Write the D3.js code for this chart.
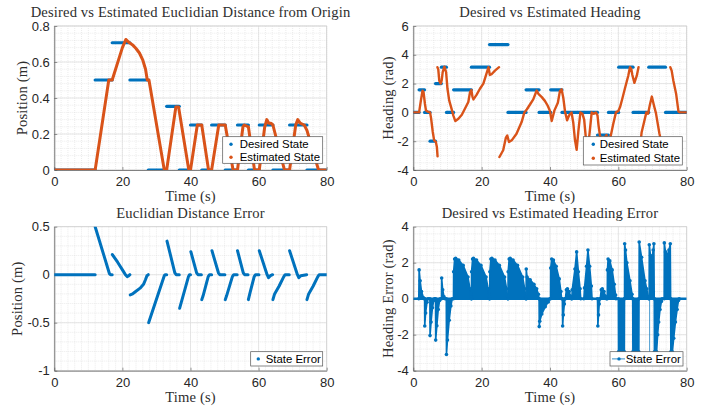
<!DOCTYPE html>
<html>
<head>
<meta charset="utf-8">
<title>Desired vs Estimated State</title>
<script src="https://d3js.org/d3.v7.min.js"></script>
<style>
  body { margin: 0; background: #fff; }
  svg { display: block; }
  .title, .alabel { font-family: "Liberation Serif", "Times New Roman", serif; font-size: 14.6px; letter-spacing: 0.15px; fill: #2e2e2e; }
  .tick text { font-family: "Liberation Sans", Arial, sans-serif; font-size: 13px; fill: #262626; }
  .legend text { font-family: "Liberation Sans", Arial, sans-serif; font-size: 11.4px; fill: #000; }
</style>
</head>
<body>
<svg id="fig" width="709" height="408"></svg>
<script>
// ---- data ----
const timeTicks = [0, 20, 40, 60, 80];
const distTicks = [0, 0.2, 0.4, 0.6, 0.8];
const headingTicks = [-4, -2, 0, 2, 4, 6];
const distErrTicks = [-1, -0.5, 0, 0.5];
const headErrTicks = [-4, -2, 0, 2, 4];

// desired euclidian distance: [start time, end time, value]
const distDesired = [
  [0, 12, 0], [12, 17, 0.5], [17, 22.2, 0.707], [22.2, 27.6, 0.5], [27.6, 33, 0],
  [33, 36.7, 0.354], [36.7, 40, 0], [40, 43.3, 0.25], [43.3, 46.2, 0], [46.2, 50.2, 0.25],
  [50.2, 53.8, 0], [53.8, 57, 0.25], [57, 60.2, 0], [60.2, 64.2, 0.25], [64.2, 69.1, 0],
  [69.1, 74.2, 0.25], [74.2, 80, 0]
];
// estimated euclidian distance: [time, value]
const distEstimated = [
  [0, 0], [12, 0], [16.0, 0.5], [17.0, 0.5], [18, 0.56], [19, 0.62], [20, 0.68], [21, 0.725],
  [21.6, 0.715], [22.2, 0.705], [23, 0.695], [24, 0.675], [25, 0.65], [26, 0.61], [26.8, 0.56],
  [27.3, 0.5], [27.8, 0.5], [32.3, 0], [33.0, 0], [35.7, 0.35], [36.5, 0.35], [39.5, 0], [40, 0],
  [42, 0.25], [43.3, 0.25], [45.3, 0], [46.2, 0], [48.3, 0.25], [50.2, 0.25], [52.5, 0], [53.8, 0],
  [55.4, 0.24], [55.8, 0.25], [57, 0.24], [58.8, 0], [60.2, 0], [61.8, 0.24], [62.4, 0.28],
  [63.0, 0.26], [63.6, 0.26], [64.2, 0.25], [67.6, 0], [69.1, 0], [70.9, 0.25], [71.5, 0.28],
  [72.2, 0.26], [73.4, 0.25], [74.2, 0.22], [77.6, 0], [80, 0]
];
// euclidian distance error, one list per continuous piece
const distErrorPieces = [
  [[0, 0], [12, 0]],
  [[12, 0.5], [16.2, 0.01], [16.5, 0], [17, 0]],
  [[17.05, 0.21], [18.6, 0.13], [20.2, 0.04], [20.9, 0], [21.4, -0.02], [21.9, -0.01], [22.2, 0]],
  [[22.3, -0.21], [23.0, -0.2], [23.7, -0.18], [25.2, -0.14], [26.2, -0.1], [26.8, -0.05], [27.2, -0.01], [27.6, 0]],
  [[27.7, -0.5], [32.3, -0.01], [32.6, 0], [33.0, 0]],
  [[33.1, 0.35], [35.4, 0.02], [35.8, 0], [36.7, 0]],
  [[36.8, -0.35], [39.4, -0.02], [39.7, 0], [40.0, 0]],
  [[40.1, 0.24], [41.8, 0.02], [42.2, 0], [43.2, 0]],
  [[43.3, -0.26], [43.7, -0.22], [45.2, -0.02], [45.6, 0], [46.2, 0]],
  [[46.3, 0.25], [48.2, 0.02], [48.6, 0], [50.1, 0]],
  [[50.2, -0.26], [50.6, -0.22], [52.3, -0.02], [52.7, 0], [53.7, 0]],
  [[53.8, 0.25], [55.5, 0.02], [55.9, 0], [56.9, 0]],
  [[57.0, -0.26], [57.4, -0.2], [58.7, -0.02], [59.1, 0], [60.1, 0]],
  [[60.2, 0.25], [62.5, 0], [62.9, -0.03], [63.5, -0.01], [64.1, 0]],
  [[64.2, -0.26], [64.7, -0.2], [66.0, -0.12], [67.4, -0.02], [67.8, 0], [69.0, 0]],
  [[69.1, 0.25], [71.4, 0], [71.8, -0.03], [72.4, -0.01], [74.1, 0]],
  [[74.2, -0.26], [74.7, -0.2], [76.0, -0.12], [77.4, -0.02], [77.8, 0], [80, 0]]
];

// desired heading: [start time, end time, value]
const headDesired = [
  [0, 1.7, 0], [1.7, 3.3, 1.571], [3.3, 4.9, 0], [4.9, 6.5, -2.0], [6.5, 8.2, 2.0],
  [8.2, 9.7, 3.142], [9.7, 11.8, 0], [11.8, 17.0, 1.571], [17.0, 22.3, 3.142], [22.3, 27.7, 4.712],
  [27.7, 33.0, 0], [33.0, 36.8, 1.571], [36.8, 40.2, 0], [40.2, 43.5, 1.571], [43.5, 53.9, 0],
  [53.9, 57.1, -1.571], [57.1, 60.1, 0], [60.1, 64.3, 3.142], [64.3, 68.9, 0], [68.9, 73.8, 3.142],
  [73.8, 80, 0]
];
// estimated heading, one list per branch between angle wraps
const headEstimated = [
  [[0, 0], [1.7, 0], [2.2, 0.8], [2.7, 1.5], [3.0, 1.4], [3.4, 0.6], [3.7, 0.15], [4.2, 0.05], [4.9, 0],
   [5.2, -0.4], [5.7, -1.36], [6.1, -1.94], [6.6, -2.05], [6.9, -2.4], [7.1, -3.05]],
  [[7.05, 3.14], [7.3, 3.0], [7.6, 2.2], [8.0, 2.0], [8.3, 2.2], [8.6, 2.8], [9.1, 3.18], [9.6, 2.8],
   [10.0, 1.64], [10.5, 0.83], [11.2, 0.25], [11.7, -0.21], [12.3, -0.6], [13.2, -0.44], [14.2, -0.16],
   [15.1, 0.25], [16.1, 0.72], [16.6, 1.41], [17.0, 1.55], [17.3, 1.1], [17.6, 0.9], [18.5, 1.22],
   [19.5, 1.64], [20.5, 2.0], [21.3, 2.6], [22.0, 3.14], [22.4, 2.6], [22.9, 2.65], [23.9, 2.9], [25.1, 3.14]],
  [[25.2, -3.1], [26.3, -2.63], [27.1, -1.75], [27.5, -1.6], [28.0, -2.06], [28.8, -1.94], [30.2, -1.48],
   [31.7, -0.67], [32.5, 0], [33.2, 0.2], [34.1, 0.53], [35.1, 0.9], [36.1, 1.52], [36.6, 1.29],
   [37.6, 1.06], [38.5, 0.8], [39.3, 0.48], [40.0, 0.1], [40.5, -0.6], [41.3, 0.14], [42.3, 0.67],
   [42.9, 1.48], [43.4, 1.6], [43.9, 1.0], [44.4, 0.05], [45.0, -0.55], [45.6, -0.2], [46.3, 0],
   [46.8, -0.7], [47.3, -1.9], [47.8, -2.6], [48.3, -1.3], [48.9, 0], [49.5, -0.1], [50.0, -0.5],
   [50.5, -1.8], [51.0, -2.65], [51.6, -1.4], [52.2, 0], [52.8, -0.1], [53.4, 0], [53.9, -0.2],
   [54.2, -0.9], [54.6, -1.57], [55.2, -2.1], [55.9, -1.8], [56.5, -1.57], [57.1, -2.2], [57.8, -1.6],
   [58.5, -0.8], [59.3, 0], [60.0, 0.1], [60.5, 0.37], [61.1, 0.9], [61.9, 1.64], [62.9, 2.55],
   [63.4, 3.14], [63.8, 3.0], [64.1, 2.6], [64.7, 2.05], [65.4, 2.55], [65.9, 3.14]],
  [[66.0, -3.1], [66.4, -2.3], [66.8, -1.4], [67.6, -0.6], [68.2, 0], [68.7, -0.1], [69.2, 0.5],
   [69.8, 1.1], [70.4, 0.5], [71.0, -0.05], [72.0, -1.45], [72.6, -2.1], [73.3, -2.7], [73.8, -3.0], [75.0, -3.1]],
  [[75.2, 3.14], [75.6, 2.9], [76.1, 2.2], [76.9, 1.3], [77.4, 0.4], [77.6, 0.05], [78.0, 0], [80, 0]]
];

// heading error: zero line, filled lobes (outer envelope) and one thin jump
const headErrorZero = [[0, 0], [80, 0]];
const headErrorLobes = [
  [[1.6, 0], [1.7, 1.6], [2.0, 1.0], [2.4, 0.4], [3.0, 0.05], [3.2, 0]],
  [[3.3, 0], [3.35, -1.52], [3.6, -0.8], [4.0, -0.2], [4.3, 0]],
  [[4.85, 0], [4.9, -2.05], [5.2, -1.3], [5.6, -0.5], [6.0, -0.1], [6.2, 0]],
  [[6.5, 0], [6.55, -2.3], [6.9, -1.5], [7.3, -0.6], [7.7, -0.1], [7.9, 0]],
  [[8.25, 0], [8.3, 1.15], [8.6, 0.5], [9.0, 0.1], [9.3, 0]],
  [[9.65, 0], [9.7, -3.1], [10.0, -2.3], [10.5, -1.2], [11.0, -0.4], [11.4, 0]],
  [[11.75, 0], [11.8, 1.5], [12.1, 2.2], [12.4, 2.25], [13.3, 2.15], [14.6, 1.85], [16.0, 1.2], [16.6, 0.55], [16.9, 0.1], [17.0, 0]],
  [[17.0, 0], [17.05, 1.5], [17.35, 2.2], [17.6, 2.25], [18.5, 2.15], [19.8, 1.85], [21.3, 1.2], [21.9, 0.55], [22.2, 0.1], [22.3, 0]],
  [[22.35, 0], [22.4, 1.5], [22.7, 2.2], [23.0, 2.25], [23.9, 2.15], [25.2, 1.85], [26.7, 1.2], [27.3, 0.55], [27.6, 0.1], [27.7, 0]],
  [[27.7, 0], [27.75, 1.5], [28.05, 2.2], [28.35, 2.25], [29.2, 2.15], [30.5, 1.85], [32.0, 1.2], [32.6, 0.55], [32.9, 0.1], [33.0, 0]],
  [[33.0, 0], [33.05, 1.65], [33.3, 1.2], [34.2, 1.05], [35.3, 0.8], [36.1, 0.55], [36.6, 0.25], [36.8, 0]],
  [[36.8, 0], [36.85, -1.55], [37.0, -1.25], [37.6, -0.85], [38.6, -0.45], [39.5, -0.18], [40.0, 0]],
  [[40.15, 0], [40.2, 1.7], [40.5, 2.2], [41.0, 2.15], [41.8, 1.8], [42.7, 1.1], [43.2, 0.4], [43.4, 0]],
  [[43.6, 0], [43.7, -1.52], [43.9, -0.9], [44.2, -0.3], [44.4, 0]],
  [[44.5, 0], [44.8, 0.5], [45.1, 0.55], [45.6, 0.4], [46.0, 0.15], [46.3, 0]],
  [[46.4, 0], [46.5, 0.5], [47.3, 1.65], [47.8, 2.6], [48.3, 1.5], [48.8, 0.55], [49.0, 0]],
  [[49.9, 0], [50.1, 0.6], [50.7, 1.8], [51.1, 2.7], [51.6, 1.8], [52.1, 0.7], [52.3, 0]],
  [[53.9, 0], [54.0, -1.52], [54.2, -0.9], [54.4, -0.3], [54.6, 0]],
  [[54.7, 0], [55.0, 0.5], [55.3, 0.55], [55.8, 0.4], [56.2, 0.15], [56.5, 0]],
  [[56.75, 0], [56.8, 1.6], [57.0, 2.2], [57.5, 2.1], [58.2, 1.6], [58.8, 0.8], [59.2, 0.2], [59.3, 0]],
  [[60.0, 0], [60.05, -2.95], [61.75, -2.95], [61.8, 0]],
  [[61.8, 0], [61.85, 3.05], [62.1, 2.7], [62.5, 2.0], [63.4, 1.0], [64.0, 0.25], [64.2, 0]],
  [[64.2, 0], [64.25, -2.95], [66.0, -2.95], [66.05, 0]],
  [[66.05, 0], [66.1, 3.15], [66.8, 2.3], [67.8, 1.0], [68.3, 0.55], [68.8, 0.1], [68.9, 0]],
  [[69.0, 0], [69.05, 3.0], [69.4, 2.4], [69.8, 2.2], [70.2, 2.7], [70.4, 3.05], [70.5, 0]],
  [[70.5, 0], [70.55, -2.95], [71.2, -2.95], [71.5, -2.0], [71.8, -1.3], [72.2, -0.6], [72.6, -0.15], [72.8, 0]],
  [[73.4, 0], [73.45, 3.1], [73.8, 2.6], [74.3, 2.4], [74.8, 2.7], [75.2, 3.05], [75.3, 0]],
  [[75.3, 0], [75.35, -2.95], [75.8, -2.95], [76.2, -2.2], [76.7, -1.3], [77.2, -0.6], [77.6, -0.1], [77.8, 0]]
];
const headErrorJumps = [[69.15, 2.9, -2.95]];

// ---- drawing ----
const blue = "#0072BD", orange = "#D95319";
const svg = d3.select("#fig");
svg.append("rect").attr("width", 709).attr("height", 408).attr("fill", "#fff");

function makePanel(box, yDomain, yTicks, yMinor, title, ylabel, id) {
  const x = d3.scaleLinear().domain([0, 80]).range([box.left, box.right]);
  const y = d3.scaleLinear().domain(yDomain).range([box.bottom, box.top]);
  const g = svg.append("g");

  // minor grid (dotted)
  g.append("g").selectAll("line").data(d3.range(0, 80.001, 2)).join("line")
    .attr("x1", d => x(d)).attr("x2", d => x(d)).attr("y1", box.top).attr("y2", box.bottom)
    .attr("stroke", "#d9d9d9").attr("stroke-width", 0.5).attr("stroke-dasharray", "1,1");
  g.append("g").selectAll("line").data(d3.range(yDomain[0], yDomain[1] + 1e-9, yMinor)).join("line")
    .attr("y1", d => y(d)).attr("y2", d => y(d)).attr("x1", box.left).attr("x2", box.right)
    .attr("stroke", "#d9d9d9").attr("stroke-width", 0.5).attr("stroke-dasharray", "1,1");
  // major grid
  g.append("g").selectAll("line").data(timeTicks).join("line")
    .attr("x1", d => x(d)).attr("x2", d => x(d)).attr("y1", box.top).attr("y2", box.bottom)
    .attr("stroke", "#dedede").attr("stroke-width", 0.7);
  g.append("g").selectAll("line").data(yTicks).join("line")
    .attr("y1", d => y(d)).attr("y2", d => y(d)).attr("x1", box.left).attr("x2", box.right)
    .attr("stroke", "#dedede").attr("stroke-width", 0.7);

  // box: light top/right, darker left/bottom
  g.append("rect").attr("x", box.left).attr("y", box.top)
    .attr("width", box.right - box.left).attr("height", box.bottom - box.top)
    .attr("fill", "none").attr("stroke", "#d0d0d0").attr("stroke-width", 0.7);

  const xAxis = g.append("g").attr("transform", "translate(0," + box.bottom + ")")
    .call(d3.axisBottom(x).tickValues(timeTicks).tickSize(-3).tickSizeOuter(0).tickPadding(7).tickFormat(d => d));
  const yAxis = g.append("g").attr("transform", "translate(" + box.left + ",0)")
    .call(d3.axisLeft(y).tickValues(yTicks).tickSize(-3).tickSizeOuter(0).tickPadding(4.5).tickFormat(d => String(d)));
  [xAxis, yAxis].forEach(a => {
    a.select(".domain").attr("stroke", "#555").attr("stroke-width", 0.7);
    a.selectAll(".tick line").attr("stroke", "#555").attr("stroke-width", 0.6);
  });

  svg.append("text").attr("class", "title").attr("text-anchor", "middle")
    .attr("x", (box.left + box.right) / 2).attr("y", box.top - 8.8).text(title);
  svg.append("text").attr("class", "alabel").attr("text-anchor", "middle")
    .attr("x", (box.left + box.right) / 2).attr("y", box.bottom + 31).text("Time (s)");
  svg.append("text").attr("class", "alabel").attr("text-anchor", "middle")
    .attr("transform", "translate(" + box.ylabelX + "," + (box.top + box.bottom) / 2 + ") rotate(-90)")
    .attr("dy", "0.35em").text(ylabel);

  svg.append("clipPath").attr("id", id).append("rect")
    .attr("x", box.left).attr("y", box.top)
    .attr("width", box.right - box.left).attr("height", box.bottom - box.top);
  const plot = svg.append("g").attr("clip-path", "url(#" + id + ")");
  return { x, y, plot, box };
}

function drawLegend(box, entries) {
  const lg = svg.append("g").attr("class", "legend");
  lg.append("rect").attr("x", box.x).attr("y", box.y).attr("width", box.w).attr("height", box.h)
    .attr("fill", "#fff").attr("stroke", "#555").attr("stroke-width", 0.7);
  entries.forEach((e, i) => {
    const cy = box.y + box.row0 + i * box.rowStep;
    if (e.line) {
      lg.append("line").attr("x1", box.x + box.sym - 7).attr("x2", box.x + box.sym + 6)
        .attr("y1", cy).attr("y2", cy).attr("stroke", e.color).attr("stroke-width", 0.8);
    }
    lg.append("circle").attr("cx", box.x + box.sym).attr("cy", cy).attr("r", 1.7).attr("fill", e.color);
    lg.append("text").attr("x", box.x + box.text).attr("y", cy).attr("dy", "0.36em").text(e.label);
  });
}

const line = (p) => d3.line().x(d => p.x(d[0])).y(d => p.y(d[1]));

// Panel 1: distance
const p1 = makePanel({ left: 54.3, right: 326.7, top: 26, bottom: 170, ylabelX: 22 },
  [0, 0.8], distTicks, 0.04, "Desired vs Estimated Euclidian Distance from Origin", "Position (m)", "c1");
p1.plot.selectAll(".des").data(distDesired).join("line")
  .attr("x1", d => p1.x(d[0])).attr("x2", d => p1.x(d[1]))
  .attr("y1", d => p1.y(d[2])).attr("y2", d => p1.y(d[2]))
  .attr("stroke", blue).attr("stroke-width", 3.2).attr("stroke-linecap", "round");
p1.plot.append("path").datum(distEstimated).attr("d", line(p1))
  .attr("fill", "none").attr("stroke", orange).attr("stroke-width", 3).attr("stroke-linejoin", "round");
drawLegend({ x: 222.7, y: 136.7, w: 100, h: 26.6, row0: 7.6, rowStep: 13, sym: 8.3, text: 17 },
  [{ color: blue, label: "Desired State" }, { color: orange, label: "Estimated State" }]);

// Panel 2: heading
const p2 = makePanel({ left: 413.3, right: 686.7, top: 26, bottom: 170, ylabelX: 387.5 },
  [-4, 6], headingTicks, 0.5, "Desired vs Estimated Heading", "Heading (rad)", "c2");
p2.plot.selectAll(".des").data(headDesired).join("line")
  .attr("x1", d => p2.x(d[0])).attr("x2", d => p2.x(d[1]))
  .attr("y1", d => p2.y(d[2])).attr("y2", d => p2.y(d[2]))
  .attr("stroke", blue).attr("stroke-width", 3.2).attr("stroke-linecap", "round");
p2.plot.selectAll(".est").data(headEstimated).join("path").attr("d", line(p2))
  .attr("fill", "none").attr("stroke", orange).attr("stroke-width", 2.4).attr("stroke-linejoin", "round")
  .attr("stroke-linecap", "round");
drawLegend({ x: 583.3, y: 136.7, w: 99, h: 28.3, row0: 7.6, rowStep: 14, sym: 10, text: 16.4 },
  [{ color: blue, label: "Desired State" }, { color: orange, label: "Estimated State" }]);

// Panel 3: distance error
const p3 = makePanel({ left: 54.3, right: 326.7, top: 226.7, bottom: 370.7, ylabelX: 17.3 },
  [-1, 0.5], distErrTicks, 0.1, "Euclidian Distance Error", "Position (m)", "c3");
p3.plot.selectAll(".err").data(distErrorPieces).join("path").attr("d", line(p3))
  .attr("fill", "none").attr("stroke", blue).attr("stroke-width", 3).attr("stroke-linejoin", "round")
  .attr("stroke-linecap", "round");
drawLegend({ x: 250.7, y: 351.7, w: 72, h: 14.3, row0: 7.2, rowStep: 14, sym: 7.6, text: 15 },
  [{ color: blue, label: "State Error" }]);

// Panel 4: heading error
const p4 = makePanel({ left: 413.3, right: 686.7, top: 226.7, bottom: 370.7, ylabelX: 387.5 },
  [-4, 4], headErrTicks, 0.4, "Desired vs Estimated Heading Error", "Heading Error (rad)", "c4");
p4.plot.append("path").datum(headErrorZero).attr("d", line(p4))
  .attr("stroke", blue).attr("stroke-width", 2.4).attr("fill", "none");
p4.plot.selectAll(".lobe").data(headErrorLobes).join("path")
  .attr("d", d3.area().x(d => p4.x(d[0])).y0(p4.y(0)).y1(d => p4.y(d[1])))
  .attr("fill", blue).attr("stroke", blue).attr("stroke-width", 1.6).attr("stroke-linejoin", "round");
p4.plot.selectAll(".dot").data(headErrorLobes.flat()).join("circle")
  .attr("cx", d => p4.x(d[0])).attr("cy", d => p4.y(d[1])).attr("r", 1.8).attr("fill", blue);
p4.plot.selectAll(".jump").data(headErrorJumps).join("line")
  .attr("x1", d => p4.x(d[0])).attr("x2", d => p4.x(d[0]))
  .attr("y1", d => p4.y(d[1])).attr("y2", d => p4.y(d[2]))
  .attr("stroke", blue).attr("stroke-width", 0.7);
drawLegend({ x: 610, y: 351.7, w: 73, h: 14.3, row0: 7.2, rowStep: 14, sym: 9, text: 15.7 },
  [{ color: blue, label: "State Error", line: true }]);
</script>
</body>
</html>
